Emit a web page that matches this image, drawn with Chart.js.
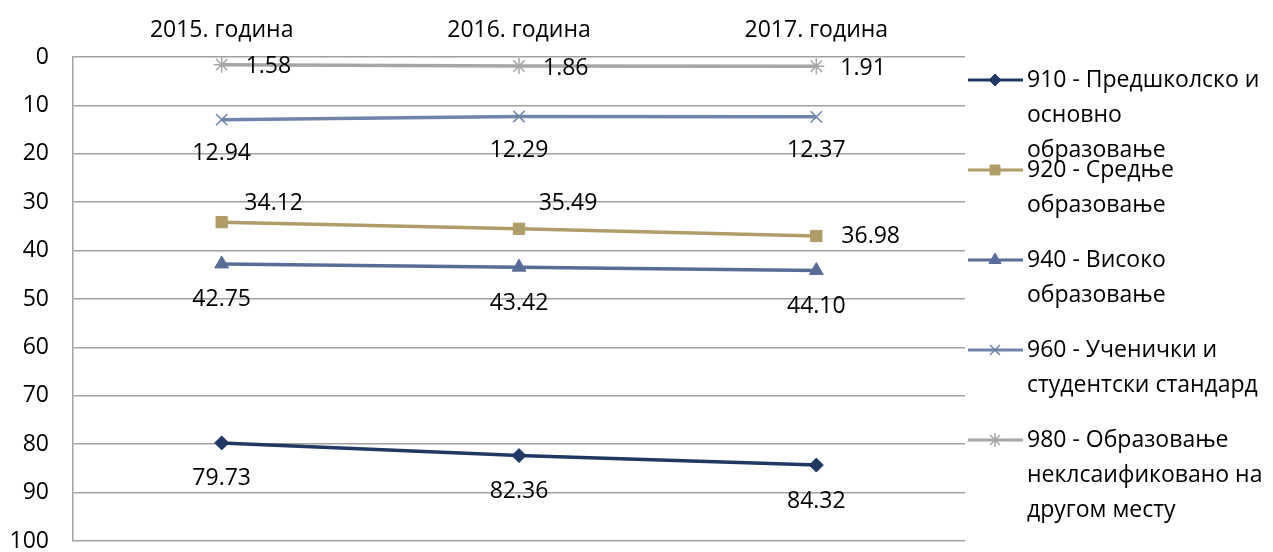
<!DOCTYPE html>
<html>
<head>
<meta charset="utf-8">
<script src="https://cdn.jsdelivr.net/npm/chart.js@4.4.1/dist/chart.umd.min.js"></script>
<style>
  html, body { margin: 0; padding: 0; background: #fff; }
  #wrap { width: 1273px; height: 552px; }
</style>
</head>
<body>
<div id="wrap"><canvas id="chart" width="1273" height="552"></canvas></div>
<script>
const years = ["2015. година", "2016. година", "2017. година"];
const yTicks = [0, 10, 20, 30, 40, 50, 60, 70, 80, 90, 100];

const names = [
  ["910 - Предшколско и", "основно", "образовање"],
  ["920 - Средње", "образовање"],
  ["940 - Високо", "образовање"],
  ["960 - Ученички и", "студентски стандард"],
  ["980 - Образовање", "неклсаификовано на", "другом месту"]
];
const preschool = [79.73, 82.36, 84.32];
const secondary = [34.12, 35.49, 36.98];
const higher = [42.75, 43.42, 44.10];
const students = [12.94, 12.29, 12.37];
const other = [1.58, 1.86, 1.91];

const FONT = "'Open Sans', sans-serif";
const FSIZE = 23;
const colors = ["#1F3864", "#B09C68", "#586C98", "#6F83AB", "#A6A6A6"];
const shapes = ["rectRot", "rect", "triangle", "crossRot", "star"];
const radii = [7, 8, 8, 8, 8];

// label placement per series: [dx, dy, align] per point
const labelPos = [
  [[0, 36, "center"], [0, 36, "center"], [0, 36, "center"]],
  [[52, -19, "center"], [49, -25, "center"], [25, 0, "left"]],
  [[0, 36, "center"], [0, 36, "center"], [0, 36, "center"]],
  [[0, 34, "center"], [0, 34, "center"], [0, 34, "center"]],
  [[24, 2, "left"], [24, 2, "left"], [24, 2, "left"]]
];

const series = [preschool, secondary, higher, students, other];

const dataLabels = {
  id: "dataLabels",
  afterDatasetsDraw(chart) {
    const ctx = chart.ctx;
    ctx.save();
    ctx.font = FSIZE + "px " + FONT;
    ctx.fillStyle = "#000";
    ctx.textBaseline = "middle";
    chart.data.datasets.forEach((ds, i) => {
      chart.getDatasetMeta(i).data.forEach((pt, j) => {
        const p = labelPos[i][j];
        ctx.textAlign = p[2];
        ctx.fillText(ds.data[j].toFixed(2), pt.x + p[0], pt.y + p[1]);
      });
    });
    ctx.restore();
  }
};

const sideLegend = {
  id: "sideLegend",
  afterDraw(chart) {
    const ctx = chart.ctx;
    ctx.save();
    ctx.font = FSIZE + "px " + FONT;
    ctx.textBaseline = "middle";
    ctx.textAlign = "left";
    chart.data.datasets.forEach((ds, i) => {
      const y = 80 + i * 90;
      ctx.strokeStyle = ds.borderColor;
      ctx.lineWidth = 3;
      ctx.beginPath();
      ctx.moveTo(968, y);
      ctx.lineTo(1023, y);
      ctx.stroke();
      ctx.fillStyle = ds.pointBackgroundColor;
      ctx.strokeStyle = ds.pointBorderColor;
      ctx.lineWidth = ds.pointBorderWidth;
      Chart.helpers.drawPoint(ctx, {
        pointStyle: ds.pointStyle, radius: ds.pointRadius - 1, borderWidth: ds.pointBorderWidth
      }, 995, y);
      ctx.fillStyle = "#000";
      names[i].forEach((line, k) => ctx.fillText(line, 1027, y + k * 35));
    });
    ctx.restore();
  }
};

new Chart(document.getElementById("chart"), {
  type: "line",
  data: {
    labels: years,
    datasets: series.map((d, i) => ({
      label: names[i].join(" "),
      data: d,
      borderColor: colors[i],
      backgroundColor: colors[i],
      pointBackgroundColor: colors[i],
      pointBorderColor: colors[i],
      pointStyle: shapes[i],
      pointRadius: radii[i],
      pointBorderWidth: (i >= 3) ? 1.5 : 1,
      borderWidth: 3.5,
      tension: 0
    }))
  },
  options: {
    responsive: false,
    animation: false,
    layout: { padding: { top: 0, right: 308, bottom: 11, left: 0 } },
    plugins: { legend: { display: false }, tooltip: { enabled: false } },
    scales: {
      x: {
        position: "top",
        offset: true,
        grid: { display: false, drawTicks: false },
        border: { display: false },
        ticks: { color: "#000", font: { family: FONT, size: FSIZE }, padding: 13 },
        afterFit(s) { s.height = 57; }
      },
      y: {
        reverse: true,
        min: 0,
        max: 100,
        afterBuildTicks(s) { s.ticks = yTicks.map(v => ({ value: v })); },
        grid: { color: "#A0A0A0", lineWidth: 1.5, drawTicks: false },
        border: { display: true, color: "#A0A0A0", width: 1.5 },
        ticks: { color: "#000", font: { family: FONT, size: FSIZE }, padding: 24 },
        afterFit(s) { s.width = 73; s.paddingTop = 0; s.paddingBottom = 0; }
      }
    }
  },
  plugins: [dataLabels, sideLegend]
});
</script>
</body>
</html>
